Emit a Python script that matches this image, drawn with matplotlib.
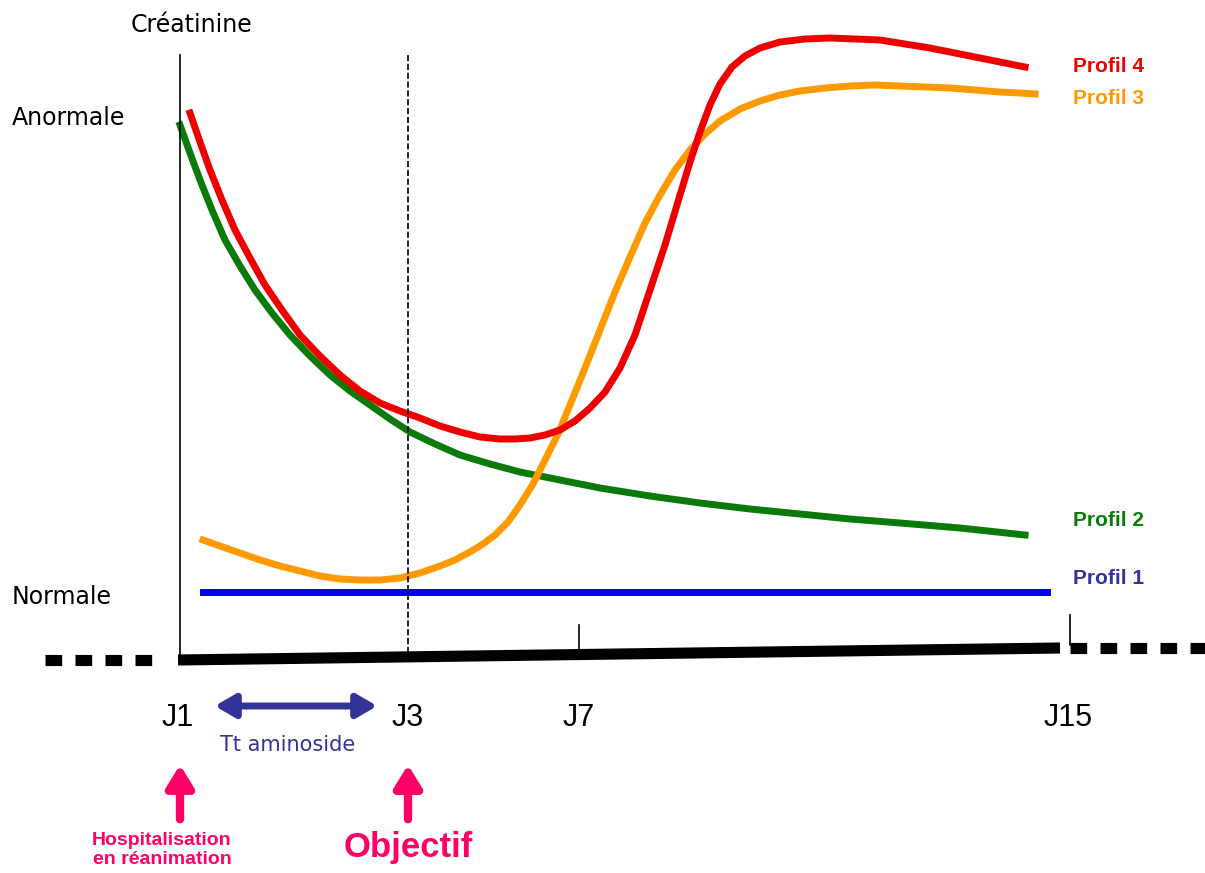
import matplotlib
matplotlib.use("Agg")
import matplotlib.pyplot as plt

# curves (pixel-like coordinates, y downwards)
p4_x = [190, 200, 210, 222, 235, 250, 265, 282, 300, 320, 340, 360, 380, 400, 420, 440, 460, 480, 500, 515, 530, 545, 560, 575, 590, 605, 620, 635, 650, 665, 680, 690, 700, 710, 720, 732, 745, 760, 780, 805, 830, 855, 880, 905, 930, 955, 980, 1005, 1025]
p4_y = [113, 142, 170, 200, 230, 258, 285, 310, 335, 356, 375, 391, 403, 411, 418, 426, 432, 437, 439, 439, 438, 435, 430, 421, 408, 392, 368, 335, 290, 245, 195, 162, 132, 105, 84, 67, 56, 48, 42, 39, 38, 39, 40, 44, 48, 53, 58, 63, 67]
p3_x = [203, 220, 240, 260, 280, 300, 320, 340, 360, 380, 400, 420, 440, 455, 470, 483, 495, 508, 520, 533, 545, 558, 570, 585, 600, 615, 630, 645, 660, 675, 690, 705, 720, 740, 760, 780, 800, 825, 850, 875, 900, 925, 950, 975, 1000, 1020, 1035]
p3_y = [540, 546, 553, 560, 566, 571, 576, 579, 580, 580, 578, 573, 566, 560, 552, 544, 535, 522, 505, 484, 460, 434, 405, 368, 330, 292, 257, 223, 195, 170, 150, 134, 121, 109, 101, 95, 91, 88, 86, 85, 86, 87, 88, 90, 92, 93, 94]
p2_x = [180, 190, 200, 212, 225, 240, 255, 272, 290, 310, 330, 350, 370, 390, 410, 435, 460, 490, 520, 560, 600, 650, 700, 750, 800, 850, 900, 960, 1025]
p2_y = [125, 153, 180, 210, 240, 266, 290, 313, 335, 356, 375, 391, 405, 419, 432, 444, 455, 464, 472, 480, 488, 496, 503, 509, 514, 519, 523, 528, 535]
p1_x = [203, 1047]
p1_y = [592, 592]

days = ["J1", "J3", "J7", "J15"]
day_x = [178, 408, 579, 1068]

fig = plt.figure(figsize=(12.05, 8.73), dpi=100)
ax = fig.add_axes([0, 0, 1, 1])
ax.set_xlim(0, 1205)
ax.set_ylim(873, 0)
ax.axis("off")

kw = dict(lw=5, solid_joinstyle="round")
ax.plot(p1_x, p1_y, color="#0000ee", **kw)
ax.plot(p2_x, p2_y, color="#0a7a0a", **kw)
ax.plot(p3_x, p3_y, color="#ff9900", **kw)
ax.plot(p4_x, p4_y, color="#ee0000", **kw)

# time axis
ax.plot([178, 1060], [660, 648], color="black", lw=8, solid_capstyle="butt")
ax.plot([45, 160], [660, 660], color="black", lw=8, ls=(0, (1.5, 1.2)))
ax.plot([1070, 1205], [648, 648], color="black", lw=8, ls=(0, (1.5, 1.2)))
ax.plot([180, 180], [55, 660], color="black", lw=1.2)
ax.plot([408, 408], [55, 655], color="black", lw=1.2, ls="--")
ax.plot([579, 579], [625, 652], color="black", lw=1.2)
ax.plot([1070, 1070], [615, 645], color="black", lw=1.2)

for d, x in zip(days, day_x):
    ax.text(x, 718, d, fontsize=22, ha="center", va="center", family="Liberation Sans")

ax.text(192, 25, "Créatinine", fontsize=17, ha="center", va="center")
ax.text(12, 118, "Anormale", fontsize=17, ha="left", va="center")
ax.text(12, 597, "Normale", fontsize=17, ha="left", va="center")

lab = dict(fontsize=15, fontweight="bold", family="Liberation Sans", ha="left", va="center")
ax.text(1073, 66, "Profil 4", color="#ee0000", **lab)
ax.text(1073, 99, "Profil 3", color="#ff9900", **lab)
ax.text(1073, 521, "Profil 2", color="#0a7a0a", **lab)
ax.text(1073, 578, "Profil 1", color="#333399", **lab)

ax.annotate("", xy=(212, 706), xytext=(380, 706),
            arrowprops=dict(arrowstyle="<|-|>,head_length=1.2,head_width=0.7", color="#333399", lw=5))
ax.text(288, 745, "Tt aminoside", fontsize=15, color="#333399", ha="center", va="center")

pink = "#ff0066"
for x in [180, 408]:
    ax.annotate("", xy=(x, 762), xytext=(x, 822),
                arrowprops=dict(arrowstyle="-|>,head_length=1.3,head_width=0.8", color=pink, lw=6))
ax.text(162, 850, "Hospitalisation\nen réanimation", fontsize=14, color=pink, fontweight="bold",
        family="Liberation Sans", ha="center", va="center", linespacing=1.1)
ax.text(408, 848, "Objectif", fontsize=25, color=pink, fontweight="bold",
        family="Liberation Sans", ha="center", va="center")

fig.savefig("out.png", dpi=100)
